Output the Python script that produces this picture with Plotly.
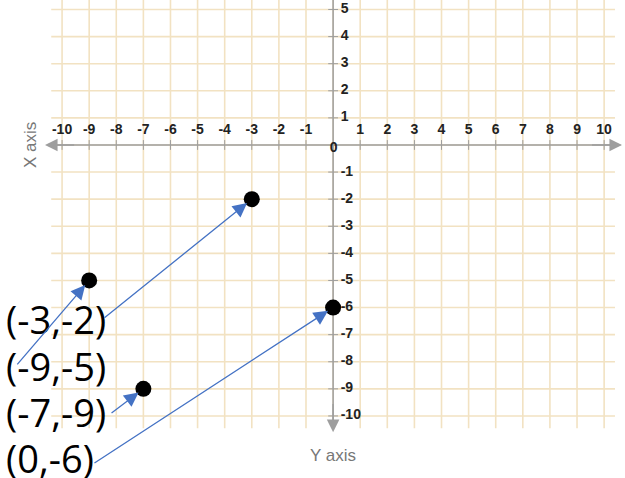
import plotly.graph_objects as go

# ---- data ----
point_x = [-3, -9, -7, 0]
point_y = [-2, -5, -9, -6]
x_ticks = [-10, -9, -8, -7, -6, -5, -4, -3, -2, -1, 1, 2, 3, 4, 5, 6, 7, 8, 9, 10]
y_ticks = [5, 4, 3, 2, 1, -1, -2, -3, -4, -5, -6, -7, -8, -9, -10]
grid_x = list(range(-10, 11))
grid_y = list(range(-10, 6))

# ---- layout constants ----
X_RANGE = [-12.29, 10.77]
Y_RANGE = [-12.29, 5.35]
GRID_COLOR = "#F2E2C2"
AXIS_COLOR = "#9E9E9E"
ARROW_COLOR = "#4472C4"
LABEL_COLOR = "#222222"

# label positions (paper) and arrow start points (data)
label_paper_y = [1 - 319 / 478, 1 - 366 / 478, 1 - 412 / 478, 1 - 458 / 478]
label_paper_x = 4 / 625
arrow_start_x = [-8.49, -11.70, -8.23, -8.86]
arrow_start_y = [-6.42, -8.15, -9.93, -11.77]

fig = go.Figure()

shapes = []
for gx in grid_x:
    shapes.append(dict(type="line", xref="x", yref="y", x0=gx, x1=gx, y0=-10.45, y1=5.6,
                       line=dict(color=GRID_COLOR, width=1.6), layer="below"))
for gy in grid_y:
    shapes.append(dict(type="line", xref="x", yref="y", x0=-10.4, x1=10.4, y0=gy, y1=gy,
                       line=dict(color=GRID_COLOR, width=1.6), layer="below"))
# axes lines
shapes.append(dict(type="line", xref="x", yref="y", x0=-10.55, x1=10.6, y0=0, y1=0,
                   line=dict(color=AXIS_COLOR, width=1.5), layer="below"))
shapes.append(dict(type="line", xref="x", yref="y", x0=0, x1=0, y0=-10.5, y1=5.6,
                   line=dict(color=AXIS_COLOR, width=1.5), layer="below"))

# tick marks
fig.add_trace(go.Scatter(x=x_ticks, y=[0] * len(x_ticks), mode="markers",
                         marker=dict(symbol="line-ns", size=7, line=dict(color=AXIS_COLOR, width=1)),
                         hoverinfo="skip", showlegend=False))
fig.add_trace(go.Scatter(x=[0] * len(y_ticks), y=y_ticks, mode="markers",
                         marker=dict(symbol="line-ew", size=7, line=dict(color=AXIS_COLOR, width=1)),
                         hoverinfo="skip", showlegend=False))

tick_font = dict(family="Liberation Sans", size=14, color=LABEL_COLOR, weight="bold")
# tick labels
fig.add_trace(go.Scatter(x=x_ticks, y=[0.53] * len(x_ticks), mode="text",
                         text=[str(v) for v in x_ticks], textfont=tick_font,
                         textposition="middle center", hoverinfo="skip", showlegend=False))
fig.add_trace(go.Scatter(x=[0.28] * len(y_ticks), y=y_ticks, mode="text",
                         text=[str(v) for v in y_ticks], textfont=tick_font,
                         textposition="middle right", hoverinfo="skip", showlegend=False))
fig.add_trace(go.Scatter(x=[0.02], y=[-0.12], mode="text", text=["0"], textfont=tick_font,
                         textposition="middle center", hoverinfo="skip", showlegend=False))

# points
fig.add_trace(go.Scatter(x=point_x, y=point_y, mode="markers",
                         marker=dict(size=16, color="black"), showlegend=False))

annotations = []
# axis arrowheads
for (tx, ty, sx, sy) in [(-10.63, 0, -9.5, 0), (10.66, 0, 9.5, 0), (0, -10.6, 0, -9.5)]:
    annotations.append(dict(x=tx, y=ty, ax=sx, ay=sy, xref="x", yref="y", axref="x", ayref="y",
                            text="", showarrow=True, arrowhead=2, arrowsize=1.8, arrowwidth=1.4,
                            arrowcolor=AXIS_COLOR))

# coordinate labels + arrows
for i in range(len(point_x)):
    annotations.append(dict(x=label_paper_x, y=label_paper_y[i], xref="paper", yref="paper",
                            text=f"({point_x[i]},{point_y[i]})", showarrow=False,
                            xanchor="left", yanchor="middle",
                            font=dict(family="Open Sans", size=38, color="black")))
    annotations.append(dict(x=point_x[i], y=point_y[i], ax=arrow_start_x[i], ay=arrow_start_y[i],
                            xref="x", yref="y", axref="x", ayref="y", text="", showarrow=True,
                            arrowhead=2, arrowsize=2.2, arrowwidth=1.3, arrowcolor=ARROW_COLOR,
                            standoff=6))

# axis titles
annotations.append(dict(x=30 / 625, y=1 - 145 / 478, xref="paper", yref="paper", text="X axis",
                        showarrow=False, textangle=-90, xanchor="center", yanchor="middle",
                        font=dict(family="Liberation Sans", size=17, color="#777777")))
annotations.append(dict(x=333 / 625, y=1 - 455 / 478, xref="paper", yref="paper", text="Y axis",
                        showarrow=False, xanchor="center", yanchor="middle",
                        font=dict(family="Liberation Sans", size=17, color="#777777")))

fig.update_layout(
    width=625, height=478,
    margin=dict(l=0, r=0, t=0, b=0),
    paper_bgcolor="white", plot_bgcolor="white",
    xaxis=dict(range=X_RANGE, visible=False, fixedrange=True),
    yaxis=dict(range=Y_RANGE, visible=False, fixedrange=True),
    shapes=shapes, annotations=annotations, showlegend=False,
)

fig.write_html("out.html",
               post_script="document.body.style.margin='0';document.body.style.overflow='hidden';",
               config={"displayModeBar": False})
